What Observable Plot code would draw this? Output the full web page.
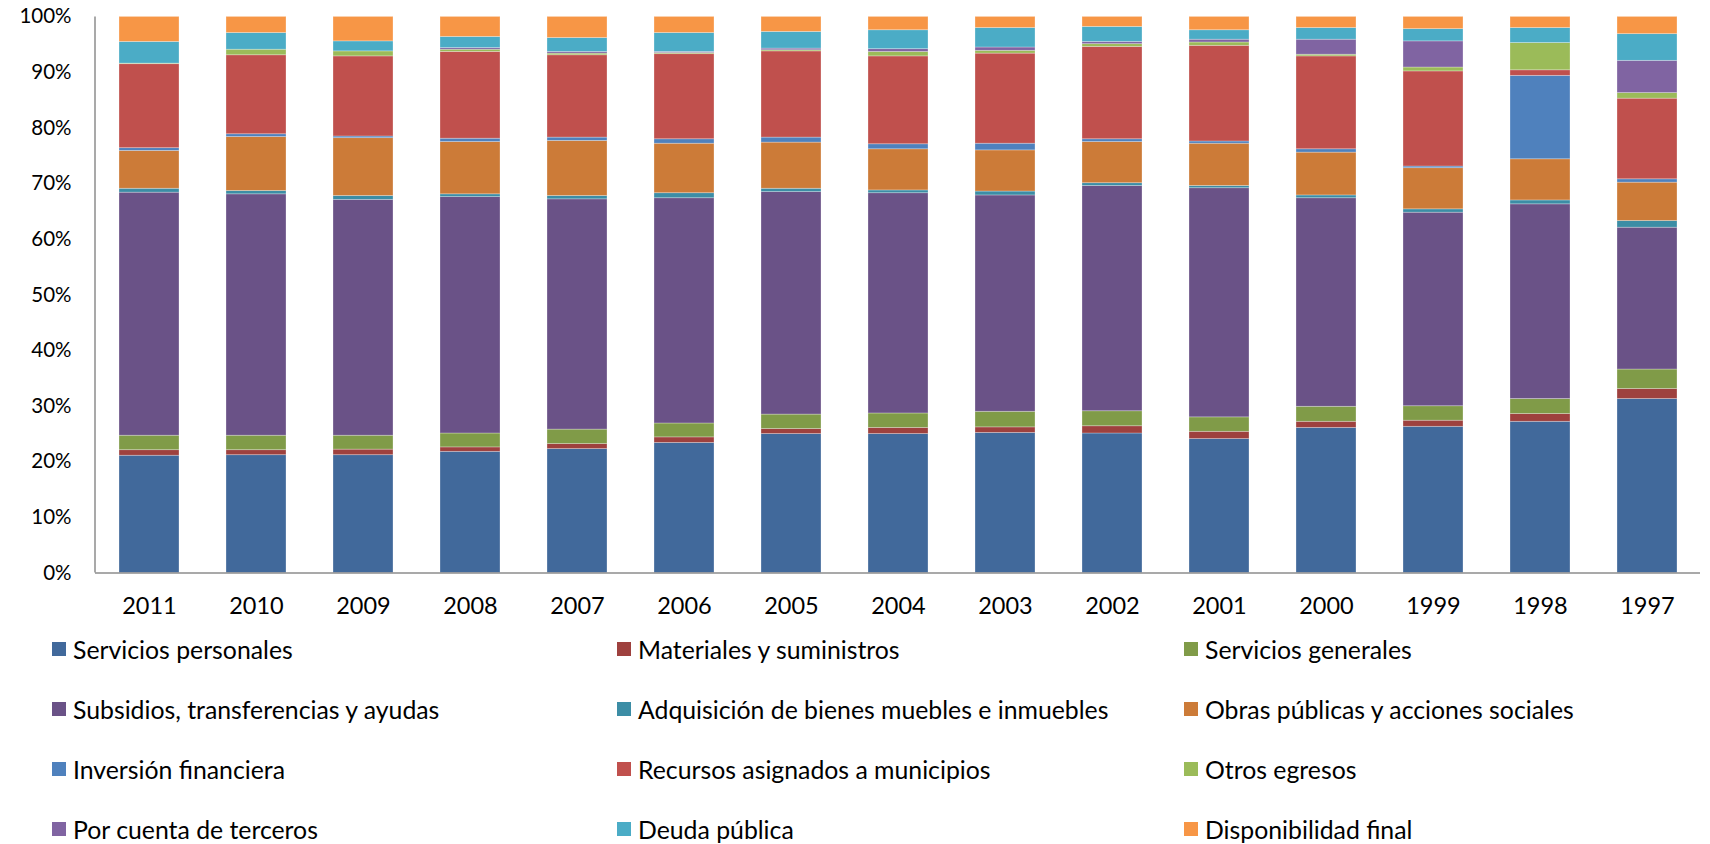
<!DOCTYPE html>
<html><head><meta charset="utf-8">
<script src="https://cdn.jsdelivr.net/npm/d3@7"></script>
<script src="https://cdn.jsdelivr.net/npm/@observablehq/plot@0.6"></script>
<style>
body{margin:0;background:#fff;font-family:Lato,"Open Sans",sans-serif;}
#chart{position:relative;width:1710px;height:844px;overflow:hidden;}
#chart svg{position:absolute;left:0;top:0;}
.item{position:absolute;display:flex;align-items:center;font-size:24.8px;color:#000;white-space:nowrap;height:30px;}
.sw{width:14px;height:14px;margin-right:7px;flex:none;}
</style></head><body><div id="chart"></div>
<script>
const years = ["2011","2010","2009","2008","2007","2006","2005","2004","2003","2002","2001","2000","1999","1998","1997"];
const categories = ["Servicios personales","Materiales y suministros","Servicios generales","Subsidios, transferencias y ayudas","Adquisición de bienes muebles e inmuebles","Obras públicas y acciones sociales","Inversión financiera","Recursos asignados a municipios","Otros egresos","Por cuenta de terceros","Deuda pública","Disponibilidad final"];
const colors = ["#41699B","#9E413E","#809B48","#6A5287","#3C8DA5","#CC7B38","#4F81BD","#C0504D","#9BBB59","#8064A2","#4BACC6","#F79646"];
const yTicks = [0,0.1,0.2,0.3,0.4,0.5,0.6,0.7,0.8,0.9,1];

const serviciosPersonales = [21.1,21.2,21.2,21.8,22.3,23.4,25.0,25.0,25.2,25.1,24.1,26.1,26.3,27.2,31.3];
const materiales          = [1.0,0.9,1.0,0.8,0.9,1.0,0.9,1.1,1.0,1.3,1.3,1.1,1.1,1.4,1.8];
const serviciosGenerales  = [2.6,2.6,2.5,2.5,2.6,2.5,2.6,2.6,2.8,2.7,2.6,2.7,2.6,2.7,3.5];
const subsidios           = [43.7,43.4,42.4,42.5,41.4,40.5,40.0,39.6,38.9,40.5,41.2,37.5,34.8,35.0,25.5];
const adquisicion         = [0.7,0.6,0.7,0.5,0.6,0.9,0.6,0.5,0.7,0.5,0.4,0.5,0.6,0.7,1.2];
const obrasPublicas       = [6.8,9.7,10.4,9.4,9.9,8.9,8.3,7.4,7.4,7.4,7.6,7.7,7.4,7.4,6.9];
const inversion           = [0.5,0.5,0.3,0.6,0.6,0.8,0.9,0.9,1.2,0.5,0.4,0.6,0.3,15.0,0.6];
const recursosMunicipios  = [15.1,14.2,14.4,15.6,14.8,15.3,15.5,15.8,16.2,16.6,17.2,16.7,17.1,1.0,14.5];
const otrosEgresos        = [0.1,1.0,0.9,0.4,0.3,0.2,0.2,0.8,0.5,0.5,0.6,0.3,0.7,4.9,1.0];
const porCuentaTerceros   = [0.0,0.0,0.0,0.3,0.3,0.2,0.3,0.5,0.6,0.4,0.5,2.7,4.7,0.0,5.8];
const deudaPublica        = [3.9,3.0,1.8,2.0,2.5,3.4,3.0,3.4,3.5,2.7,1.7,2.1,2.2,2.7,4.8];
const disponibilidad      = [4.5,2.9,4.4,3.6,3.8,2.9,2.7,2.4,2.0,1.8,2.4,2.0,2.2,2.0,3.1];

const seriesValues = [serviciosPersonales,materiales,serviciosGenerales,subsidios,adquisicion,obrasPublicas,inversion,recursosMunicipios,otrosEgresos,porCuentaTerceros,deudaPublica,disponibilidad];

const rows = [];
categories.forEach((c, k) => years.forEach((y, i) => rows.push({year: y, category: c, value: seriesValues[k][i]})));

const W = 1710, H = 625, mL = 95, mR = 10, mT = 16.4, plotBottom = 572.6;

const chart = Plot.plot({
  width: W, height: H,
  marginTop: mT, marginBottom: H - plotBottom, marginLeft: mL, marginRight: mR,
  style: {fontFamily: "Lato, 'Open Sans', sans-serif", color: "#000", background: "white"},
  x: {domain: years, paddingInner: 0.44, paddingOuter: 0.22, label: null},
  y: {domain: [0, 1], label: null},
  color: {domain: categories, range: colors},
  marks: [
    Plot.barY(rows, Plot.stackY({offset: "normalize", order: categories}, {
      x: "year", y: "value", fill: "category", z: "category",
      stroke: "white", strokeOpacity: 0.35, strokeWidth: 0.8
    })),
    Plot.ruleY([0], {stroke: "#8C8C8C", strokeWidth: 1.5}),
    Plot.axisX({tickSize: 0, tickPadding: 24, fontSize: 23.5, label: null}),
    Plot.axisY({ticks: yTicks, tickFormat: d3.format(".0%"), tickSize: 0, tickPadding: 24, fontSize: 20.5, label: null})
  ]
});
const root = document.getElementById("chart");
root.appendChild(chart);

// left axis line along the plot frame
d3.select(chart).append("line")
  .attr("x1", mL).attr("x2", mL).attr("y1", mT).attr("y2", plotBottom)
  .attr("stroke", "#8C8C8C").attr("stroke-width", 1.5);

// legend (3 columns x 4 rows) below the SVG
const colX = [52, 617, 1184];
const rowY = [649, 709, 769, 829];
categories.forEach((c, k) => {
  const d = document.createElement("div");
  d.className = "item";
  d.style.left = colX[k % 3] + "px";
  d.style.top = (rowY[Math.floor(k / 3)] - 15) + "px";
  d.innerHTML = `<span class="sw" style="background:${colors[k]}"></span><span>${c}</span>`;
  root.appendChild(d);
});
</script>
</body></html>
